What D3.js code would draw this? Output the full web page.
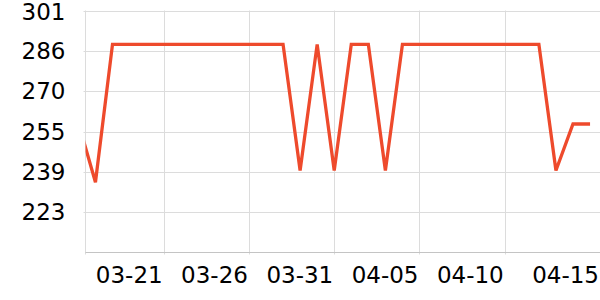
<!DOCTYPE html>
<html lang="en">
<head>
<meta charset="UTF-8" />
<title>Line chart</title>
<script src="https://d3js.org/d3.v7.min.js"></script>
<style>
    body { margin: 0; background: #fff; }
    svg { display: block; }
    text { font-family: 'DejaVu Sans', sans-serif; font-size: 23px; fill: #000; }
    .grid line { stroke: #dcdcdc; stroke-width: 1; }
    .baseline { stroke: #c4c4c4; stroke-width: 1; }
    .series { fill: none; stroke: #ee4a2c; stroke-width: 3.3; stroke-linejoin: miter; }
</style>
</head>
<body>
<svg width="600" height="300"></svg>
<script>
    // daily values, 03-16 .. 04-15 (first point sits just left of the plot and gets clipped)
    var dates = ['03-16','03-17','03-18','03-19','03-20','03-21','03-22','03-23','03-24','03-25',
                 '03-26','03-27','03-28','03-29','03-30','03-31','04-01','04-02','04-03','04-04',
                 '04-05','04-06','04-07','04-08','04-09','04-10','04-11','04-12','04-13','04-14','04-15'];
    var values = [258, 235, 288.3, 288.3, 288.3, 288.3, 288.3, 288.3, 288.3, 288.3,
                  288.3, 288.3, 288.3, 239.5, 288.3, 239.5, 288.3, 288.3, 239.5, 288.3,
                  288.3, 288.3, 288.3, 288.3, 288.3, 288.3, 288.3, 288.3, 239.5, 257.5, 257.5];

    var yTicks = [223.4, 239, 254.6, 270.2, 285.8, 301.4];
    var yLabels = ['223', '239', '255', '270', '286', '301'];
    var xTicks = ['03-21', '03-26', '03-31', '04-05', '04-10', '04-15'];

    const parse = d3.timeParse('%Y-%m-%d');
    const toDate = (s) => parse('2024-' + s);
    const data = dates.map((d, i) => ({ date: toDate(d), value: values[i] }));

    const svg = d3.select('svg');
    const plotLeft = 85.5, plotRight = 600, plotTop = 10.5, plotBottom = 252.5;

    // x domain starts part way into 03-16 so the first segment enters from the edge
    const x = d3.scaleTime()
      .domain([d3.timeHour.offset(toDate('03-16'), 10.3), d3.timeHour.offset(toDate('04-15'), 14)])
      .range([plotLeft, plotRight]);

    const y = d3.scaleLinear()
      .domain([207.8, 301.4])
      .range([plotBottom, plotTop]);

    // horizontal grid lines + y labels
    const yg = svg.append('g').attr('class', 'grid');
    yg.selectAll('line')
      .data(yTicks)
      .enter().append('line')
      .attr('x1', plotLeft - 2).attr('x2', plotRight)
      .attr('y1', (d) => Math.round(y(d)) + 0.5)
      .attr('y2', (d) => Math.round(y(d)) + 0.5);

    // top label is nudged down a little so it stays inside the picture
    svg.append('g').selectAll('text')
      .data(yTicks)
      .enter().append('text')
      .attr('x', plotLeft - 20)
      .attr('y', (d) => Math.max(y(d), 12))
      .attr('dy', '0.36em')
      .attr('text-anchor', 'end')
      .text((d, i) => yLabels[i]);

    // vertical grid lines (left edge + date ticks, last tick has no line)
    const xg = svg.append('g').attr('class', 'grid');
    xg.append('line')
      .attr('x1', plotLeft).attr('x2', plotLeft)
      .attr('y1', plotTop).attr('y2', plotBottom + 2);
    xg.selectAll('line.v')
      .data(xTicks.slice(0, -1))
      .enter().append('line')
      .attr('class', 'v')
      .attr('x1', (d) => Math.round(x(toDate(d))) + 0.5)
      .attr('x2', (d) => Math.round(x(toDate(d))) + 0.5)
      .attr('y1', plotTop).attr('y2', plotBottom + 2);

    svg.append('line')
      .attr('class', 'baseline')
      .attr('x1', plotLeft).attr('x2', plotRight)
      .attr('y1', plotBottom).attr('y2', plotBottom);

    // x labels, right aligned on the tick; the last one is pushed to the edge
    svg.append('g').selectAll('text')
      .data(xTicks)
      .enter().append('text')
      .attr('x', (d, i) => i === xTicks.length - 1 ? 599 : x(toDate(d)) - 1)
      .attr('y', 283)
      .attr('text-anchor', 'end')
      .text((d) => d);

    svg.append('clipPath')
      .attr('id', 'plot')
      .append('rect')
      .attr('x', plotLeft).attr('y', 0)
      .attr('width', plotRight - plotLeft).attr('height', plotBottom);

    const line = d3.line()
      .x((d) => x(d.date))
      .y((d) => y(d.value));

    svg.append('path')
      .datum(data)
      .attr('class', 'series')
      .attr('clip-path', 'url(#plot)')
      .attr('d', line);
</script>
</body>
</html>
